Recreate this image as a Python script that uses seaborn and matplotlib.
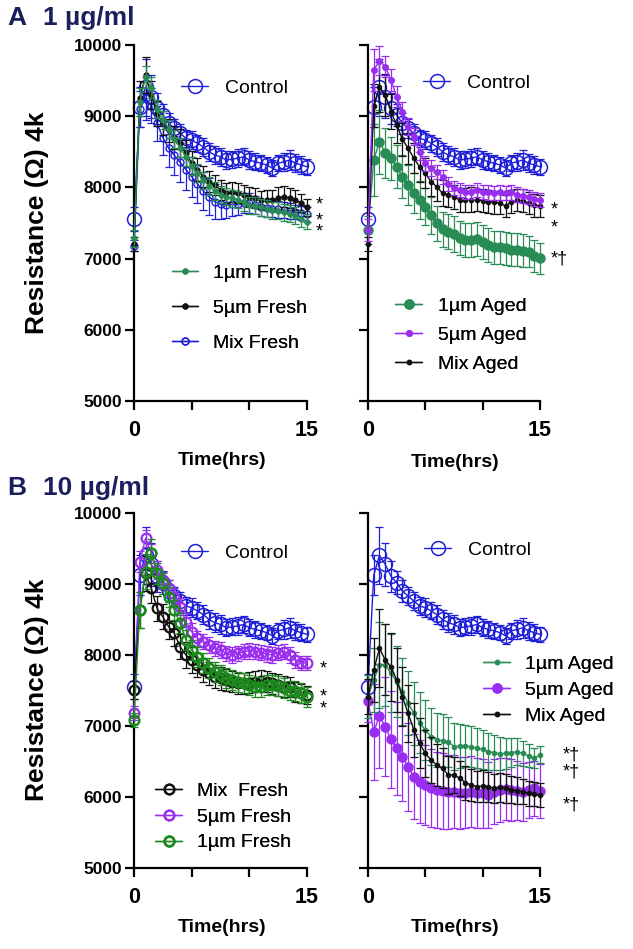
import numpy as np
import pandas as pd
import matplotlib
matplotlib.use("Agg")
import matplotlib.pyplot as plt
from matplotlib.lines import Line2D
import seaborn as sns

# ---------------- data ----------------
time = [0, 0.5, 1, 1.5, 2, 2.5, 3, 3.5, 4, 4.5, 5, 5.5, 6, 6.5, 7, 7.5,
        8, 8.5, 9, 9.5, 10, 10.5, 11, 11.5, 12, 12.5, 13, 13.5, 14, 14.5, 15]

control = [7556, 9125, 9405, 9275, 9110, 9017, 8900, 8830, 8760, 8690, 8666, 8620, 8570, 8500, 8455, 8430,
           8385, 8395, 8410, 8430, 8385, 8360, 8340, 8315, 8270, 8340, 8360, 8385, 8340, 8315, 8290]
control_err = [170, 280, 400, 300, 220, 160, 150, 130, 130, 120, 130, 120, 130, 130, 130, 130,
               120, 120, 130, 120, 120, 120, 110, 110, 110, 110, 130, 140, 130, 120, 110]

# Panel A (1 ug/ml) fresh
a_1um_fresh = [7285, 9200, 9550, 9400, 9100, 8950, 8820, 8680, 8560, 8430, 8300, 8200, 8100, 8020, 7950, 7900,
               7870, 7850, 7830, 7790, 7750, 7740, 7720, 7700, 7680, 7670, 7650, 7630, 7600, 7560, 7520]
a_1um_fresh_err = [120, 200, 150, 150, 130, 130, 130, 130, 130, 130, 130, 130, 120, 120, 120, 120,
                   120, 120, 120, 120, 120, 120, 120, 120, 120, 120, 120, 120, 120, 110, 110]
a_5um_fresh = [7200, 9250, 9580, 9300, 9040, 8900, 8800, 8700, 8620, 8480, 8340, 8250, 8150, 8080, 8030, 7970,
               7920, 7930, 7920, 7900, 7870, 7850, 7820, 7830, 7820, 7850, 7870, 7850, 7820, 7780, 7720]
a_5um_fresh_err = [100, 250, 250, 200, 180, 170, 160, 160, 200, 180, 170, 160, 150, 150, 140, 140,
                   140, 140, 140, 140, 140, 140, 130, 130, 140, 150, 150, 140, 140, 130, 120]
a_mix_fresh = [7180, 9100, 9250, 9150, 8900, 8700, 8550, 8450, 8350, 8250, 8150, 8050, 7950, 7870, 7800, 7760,
               7750, 7760, 7760, 7780, 7780, 7750, 7720, 7710, 7700, 7690, 7680, 7670, 7650, 7640, 7620]
a_mix_fresh_err = [80, 250, 300, 250, 250, 250, 260, 270, 280, 280, 280, 270, 270, 260, 250, 200,
                   180, 160, 150, 140, 140, 130, 120, 120, 120, 120, 110, 110, 100, 100, 100]

# Panel A (1 ug/ml) aged
a_1um_aged = [7400, 8385, 8642, 8488, 8408, 8290, 8150, 8034, 7917, 7823, 7730, 7612, 7495, 7411, 7378, 7346,
              7285, 7261, 7261, 7270, 7238, 7191, 7158, 7158, 7144, 7125, 7125, 7111, 7097, 7036, 7004]
a_1um_aged_err = [200, 500, 450, 350, 300, 300, 300, 280, 280, 270, 260, 260, 250, 250, 250, 250,
                  240, 240, 240, 240, 240, 240, 230, 230, 230, 230, 230, 230, 220, 220, 220]
a_5um_aged = [7400, 9650, 9780, 9695, 9510, 9275, 9064, 8853, 8713, 8500, 8338, 8268, 8220, 8150, 8048, 7987,
              7963, 7940, 7940, 7960, 7940, 7930, 7917, 7930, 7917, 7930, 7900, 7880, 7860, 7840, 7820]
a_5um_aged_err = [150, 300, 200, 150, 150, 150, 130, 120, 120, 120, 110, 110, 100, 100, 100, 100,
                  100, 100, 100, 100, 100, 100, 100, 100, 100, 100, 100, 100, 100, 100, 100]
a_mix_aged = [7205, 9150, 9405, 9298, 9064, 8876, 8675, 8549, 8408, 8290, 8198, 8080, 8010, 7917, 7893, 7870,
              7823, 7823, 7830, 7823, 7814, 7800, 7790, 7780, 7739, 7800, 7823, 7814, 7780, 7750, 7740]
a_mix_aged_err = [100, 300, 350, 300, 250, 250, 230, 220, 210, 210, 210, 200, 200, 180, 170, 170,
                  170, 170, 170, 160, 160, 160, 160, 160, 160, 160, 160, 160, 160, 160, 160]

# Panel B (10 ug/ml) fresh
b_mix_fresh = [7507, 8634, 9150, 8939, 8657, 8540, 8399, 8305, 8117, 8000, 7930, 7859, 7789, 7742, 7695, 7671,
               7648, 7624, 7600, 7600, 7610, 7624, 7638, 7624, 7600, 7577, 7553, 7545, 7484, 7460, 7437]
b_mix_fresh_err = [130, 250, 250, 200, 180, 180, 180, 180, 180, 180, 180, 170, 170, 160, 160, 160,
                   160, 150, 150, 150, 150, 150, 150, 150, 150, 150, 150, 140, 140, 130, 130]
b_5um_fresh = [7183, 9315, 9643, 9432, 9197, 9056, 8939, 8822, 8681, 8469, 8329, 8235, 8188, 8141, 8094, 8070,
               8023, 8000, 8023, 8047, 8060, 8047, 8035, 8010, 8000, 8035, 8047, 8000, 7930, 7892, 7883]
b_5um_fresh_err = [100, 150, 120, 130, 130, 120, 120, 120, 120, 120, 120, 110, 110, 110, 110, 110,
                   110, 110, 110, 110, 110, 110, 110, 110, 110, 110, 110, 110, 110, 100, 100]
b_1um_fresh = [7085, 8634, 9174, 9432, 9150, 9009, 8822, 8634, 8446, 8211, 8070, 7977, 7883, 7812, 7765, 7718,
               7671, 7648, 7624, 7600, 7577, 7553, 7553, 7577, 7577, 7565, 7530, 7500, 7498, 7470, 7413]
b_1um_fresh_err = [100, 250, 250, 200, 150, 150, 140, 140, 140, 140, 140, 140, 140, 140, 140, 140,
                   140, 140, 140, 140, 140, 140, 140, 140, 140, 140, 140, 140, 140, 140, 140]

# Panel B (10 ug/ml) aged
b_1um_aged = [7413, 7650, 7859, 7859, 7742, 7624, 7484, 7319, 7178, 7047, 6944, 6850, 6803, 6793, 6779, 6709,
              6718, 6718, 6709, 6685, 6670, 6638, 6625, 6610, 6615, 6625, 6638, 6615, 6580, 6545, 6592]
b_1um_aged_err = [300, 450, 600, 580, 550, 500, 470, 450, 440, 430, 420, 400, 380, 370, 350, 330,
                  310, 300, 290, 280, 275, 260, 250, 230, 220, 200, 190, 180, 160, 140, 120]
b_5um_aged = [7350, 6915, 7141, 6991, 6812, 6685, 6568, 6427, 6286, 6216, 6169, 6122, 6099, 6085, 6075, 6075,
              6060, 6060, 6075, 6060, 6050, 6028, 6075, 6099, 6110, 6099, 6090, 6075, 6099, 6122, 6084]
b_5um_aged_err = [300, 680, 730, 700, 680, 650, 630, 620, 600, 580, 560, 550, 540, 530, 520, 510,
                  510, 500, 500, 490, 480, 470, 460, 450, 440, 430, 420, 410, 400, 390, 380]
b_mix_aged = [7413, 7789, 8094, 7930, 7836, 7648, 7413, 7178, 6944, 6756, 6615, 6521, 6451, 6404, 6310, 6310,
              6263, 6202, 6169, 6146, 6155, 6146, 6122, 6135, 6122, 6099, 6090, 6075, 6052, 6040, 6028]
b_mix_aged_err = [250, 450, 550, 500, 480, 450, 420, 400, 380, 350, 330, 320, 300, 280, 270, 260,
                  250, 240, 230, 220, 220, 210, 200, 200, 200, 190, 190, 180, 180, 170, 170]

# ---------------- style ----------------
sns.set_theme(style="ticks")
plt.rcParams['font.family'] = ['Liberation Sans', 'DejaVu Sans']
plt.rcParams.update({'text.color': 'black', 'axes.labelcolor': 'black',
                     'xtick.color': 'black', 'ytick.color': 'black',
                     'axes.edgecolor': 'black'})

BLUE = '#1f1fd8'
GREEN_A = '#2a8c55'
GREEN_B = '#1e8a1e'
PURPLE = '#9a2ef0'
BLACK = '#111111'
NAVY = '#1b1f5e'

fig = plt.figure(figsize=(6.33, 9.49), dpi=100)
W, H = 633.0, 949.0

def add_ax(left, top, right, bottom):
    return fig.add_axes([left / W, 1 - bottom / H, (right - left) / W, (bottom - top) / H])

axA1 = add_ax(134, 45, 307, 401)
axA2 = add_ax(368, 45, 540, 401)
axB1 = add_ax(134, 513, 307, 868)
axB2 = add_ax(368, 513, 540, 868)


def draw(ax, vals, errs, color, ms, mfc, mew=1.0, lw=1.0, z=2):
    ax.errorbar(time, vals, yerr=errs, fmt='none', ecolor=color, elinewidth=0.9,
                capsize=3.2, capthick=0.9, clip_on=False, zorder=z)
    df = pd.DataFrame({'t': time, 'v': vals})
    sns.lineplot(data=df, x='t', y='v', ax=ax, color=color, linewidth=lw, marker='o',
                 markersize=ms, markerfacecolor=mfc, markeredgecolor=color,
                 markeredgewidth=mew, errorbar=None, clip_on=False, zorder=z + 0.5)


def handle(color, ms, mfc, mew=1.0):
    return Line2D([], [], color=color, lw=1.0, marker='o', markersize=ms,
                  markerfacecolor=mfc, markeredgecolor=color, markeredgewidth=mew)


def style(ax, left_labels):
    ax.set_xlim(0, 15)
    ax.set_ylim(5000, 10000)
    ax.set_yticks([5000, 6000, 7000, 8000, 9000, 10000])
    ax.set_xticks([0, 5, 10, 15])
    ax.set_xticklabels(['0', '', '', '15'], fontsize=15.5, fontweight='bold')
    if left_labels:
        ax.set_yticklabels(['5000', '6000', '7000', '8000', '9000', '10000'],
                           fontsize=12.5, fontweight='bold')
    else:
        ax.set_yticklabels([])
    sns.despine(ax=ax)
    for s in ['left', 'bottom']:
        ax.spines[s].set_linewidth(1.6)
        ax.spines[s].set_color('black')
    ax.tick_params(axis='both', width=1.6, length=6.5, color='black', labelcolor='black')
    ax.tick_params(axis='y', pad=2)
    ax.tick_params(axis='x', pad=7)
    ax.set_xlabel('')
    ax.set_ylabel('')


def legend(ax, handles, labels, x, y, ls, hl, pad):
    leg = ax.legend(handles, labels, loc='center left', bbox_to_anchor=(x, y),
                    frameon=False, fontsize=14, borderpad=0, borderaxespad=0,
                    labelspacing=ls, handlelength=hl, handletextpad=pad)
    for t in leg.get_texts():
        t.set_color('black')
    ax.add_artist(leg)


def stars(ax, x, ys_texts, fs=13, ls=1.0):
    for (y, s) in ys_texts:
        ax.text(x, y, s, ha='left', va='center', fontsize=fs, color='black',
                clip_on=False, linespacing=ls)

# ---------- Panel A left ----------
draw(axA1, control, control_err, BLUE, 10, 'none', 1.1, z=2)
draw(axA1, a_mix_fresh, a_mix_fresh_err, BLUE, 5, 'none', 1.0, z=3)
draw(axA1, a_5um_fresh, a_5um_fresh_err, BLACK, 3.5, BLACK, 1.0, z=4)
draw(axA1, a_1um_fresh, a_1um_fresh_err, GREEN_A, 3.5, GREEN_A, 1.0, z=5)
style(axA1, True)
legend(axA1, [handle(BLUE, 10, 'none', 1.1)], ['Control'], 0.272, 0.879, 0.5, 1.4, 0.85)
legend(axA1, [handle(GREEN_A, 3.5, GREEN_A), handle(BLACK, 3.5, BLACK), handle(BLUE, 5, 'none')],
       ['1µm Fresh', '5µm Fresh', 'Mix Fresh'], 0.22, 0.261, 0.9, 1.35, 0.75)
stars(axA1, 15.75, [(7760, '*'), (7450, '*\n*')], ls=0.55)

# ---------- Panel A right ----------
draw(axA2, control, control_err, BLUE, 10, 'none', 1.1, z=2)
draw(axA2, a_1um_aged, a_1um_aged_err, GREEN_A, 6.5, GREEN_A, 1.0, z=3)
draw(axA2, a_mix_aged, a_mix_aged_err, BLACK, 3, BLACK, 1.0, z=4)
draw(axA2, a_5um_aged, a_5um_aged_err, PURPLE, 4, PURPLE, 1.0, z=5)
style(axA2, False)
legend(axA2, [handle(BLUE, 10, 'none', 1.1)], ['Control'], 0.32, 0.893, 0.5, 1.4, 0.85)
legend(axA2, [handle(GREEN_A, 6.5, GREEN_A), handle(PURPLE, 4, PURPLE), handle(BLACK, 3, BLACK)],
       ['1µm Aged', '5µm Aged', 'Mix Aged'], 0.157, 0.185, 0.6, 1.4, 0.8)
stars(axA2, 15.9, [(7680, '*'), (7425, '*'), (6990, '*†')])

# ---------- Panel B left ----------
draw(axB1, control, control_err, BLUE, 10, 'none', 1.1, z=2)
draw(axB1, b_5um_fresh, b_5um_fresh_err, PURPLE, 7, 'none', 1.6, z=3)
draw(axB1, b_mix_fresh, b_mix_fresh_err, BLACK, 7, 'none', 1.6, z=4)
draw(axB1, b_1um_fresh, b_1um_fresh_err, GREEN_B, 7, 'none', 1.8, z=5)
style(axB1, True)
legend(axB1, [handle(BLUE, 10, 'none', 1.1)], ['Control'], 0.272, 0.887, 0.5, 1.4, 0.85)
legend(axB1, [handle(BLACK, 7, 'none', 1.6), handle(PURPLE, 7, 'none', 1.6), handle(GREEN_B, 7, 'none', 1.8)],
       ['Mix  Fresh', '5µm Fresh', '1µm Fresh'], 0.121, 0.144, 0.42, 1.4, 0.75)
stars(axB1, 16.1, [(7800, '*'), (7325, '*\n*')], ls=0.6)

# ---------- Panel B right ----------
draw(axB2, control, control_err, BLUE, 10, 'none', 1.1, z=2)
draw(axB2, b_5um_aged, b_5um_aged_err, PURPLE, 6.5, PURPLE, 1.0, z=3)
draw(axB2, b_1um_aged, b_1um_aged_err, GREEN_A, 3, GREEN_A, 1.0, z=4)
draw(axB2, b_mix_aged, b_mix_aged_err, BLACK, 3, BLACK, 1.0, z=5)
style(axB2, False)
legend(axB2, [handle(BLUE, 10, 'none', 1.1)], ['Control'], 0.326, 0.896, 0.5, 1.4, 0.85)
legend(axB2, [handle(GREEN_A, 3, GREEN_A), handle(PURPLE, 6.5, PURPLE), handle(BLACK, 3, BLACK)],
       ['1µm Aged', '5µm Aged', 'Mix Aged'], 0.669, 0.501, 0.42, 1.4, 0.75)
stars(axB2, 17.0, [(6590, '*†'), (6350, '*†'), (5885, '*†')])

# ---------- figure texts ----------
for yb, lab, conc in [(25, 'A', '1 µg/ml'), (495, 'B', '10 µg/ml')]:
    fig.text(7 / W, 1 - yb / H, lab, fontsize=19, fontweight='bold', color=NAVY, va='baseline')
    fig.text(43 / W, 1 - yb / H, conc, fontsize=19, fontweight='bold', color=NAVY, va='baseline')

for yc in [223, 690]:
    fig.text(37 / W, 1 - yc / H, 'Resistance (Ω) 4k', rotation=90, ha='center', va='center',
             fontsize=19, fontweight='bold', color='black')

for xc, yc in [(222, 460), (455, 462), (222, 928), (455, 928)]:
    fig.text(xc / W, 1 - yc / H, 'Time(hrs)', ha='center', va='center', fontsize=14,
             fontweight='bold', color='black')

fig.savefig('out.png', dpi=100)
